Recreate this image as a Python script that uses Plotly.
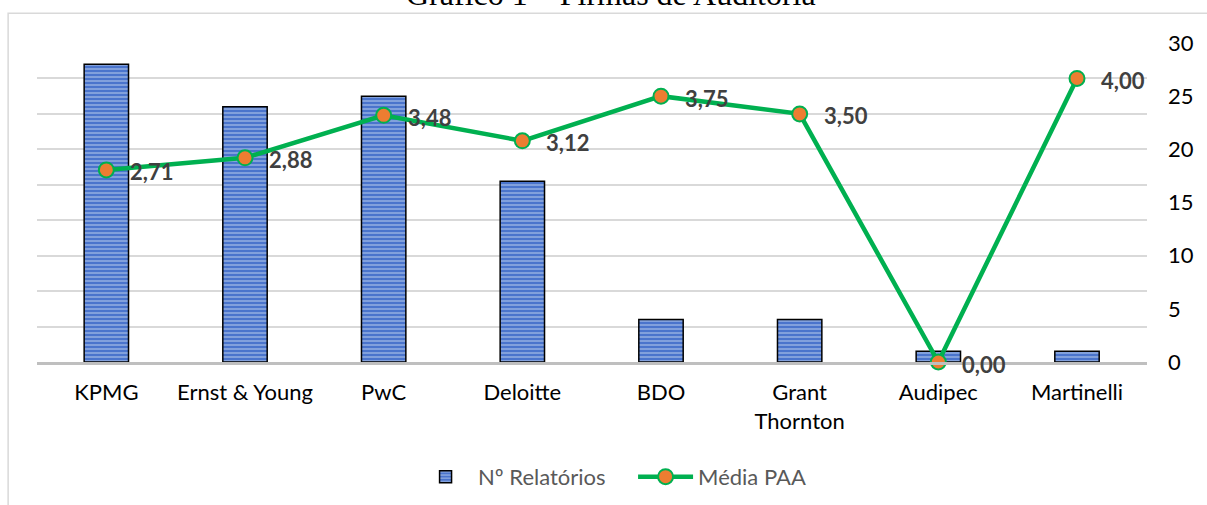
import plotly.graph_objects as go

firmas = ["KPMG", "Ernst & Young", "PwC", "Deloitte", "BDO", "Grant<br>Thornton", "Audipec", "Martinelli"]
n_relatorios = [28, 24, 25, 17, 4, 4, 1, 1]
media_paa = [2.71, 2.88, 3.48, 3.12, 3.75, 3.50, 0.00, 4.00]
rotulos = [f"{v:.2f}".replace(".", ",") for v in media_paa]

FONT = "Lato"
FS = 22

fig = go.Figure()
fig.add_trace(go.Bar(
    x=firmas, y=n_relatorios, name="Nº Relatórios", yaxis="y",
    marker=dict(
        color="#4a74cc",
        line=dict(color="#000000", width=1.5),
        pattern=dict(shape="-", fgcolor="#d6e1f6", bgcolor="#4a74cc", size=4, solidity=0.4),
    ),
))
fig.add_trace(go.Scatter(
    x=firmas, y=media_paa, name="Média PAA", yaxis="y2", mode="lines+markers",
    line=dict(color="#00b050", width=4.5),
    marker=dict(color="#ed7d31", size=15, line=dict(color="#00b050", width=2)),
    cliponaxis=False,
))

for f, v, t in zip(firmas, media_paa, rotulos):
    fig.add_annotation(x=f, y=v, xref="x", yref="y2", text=f"<b>{t}</b>", showarrow=False,
                       xanchor="left", yanchor="middle", xshift=22, yshift=-2,
                       font=dict(family=FONT, size=FS, color="#404040"))

fig.add_annotation(x=0.517, y=1.091, xref="paper", yref="paper", text="Gráfico 1 – Firmas de Auditoria",
                   showarrow=False, xanchor="center", yanchor="bottom",
                   font=dict(family="Liberation Serif", size=32, color="#000000"))

fig.add_shape(type="rect", xref="paper", yref="paper", x0=-0.026, x1=1.06, y0=-0.5, y1=1.093,
              line=dict(color="#d9d9d9", width=1.5), fillcolor="rgba(0,0,0,0)", layer="below")

fig.update_layout(
    width=1207, height=505,
    margin=dict(l=37, r=60, t=43, b=143, autoexpand=False),
    paper_bgcolor="white", plot_bgcolor="white",
    bargap=0.68,
    font=dict(family=FONT, size=FS, color="#000000"),
    xaxis=dict(showline=True, linecolor="#bfbfbf", linewidth=3, ticks="", showgrid=False,
               ticklabelstandoff=9, tickfont=dict(family=FONT, size=FS, color="#000000")),
    yaxis=dict(range=[0, 30], dtick=5, side="right", showgrid=False, zeroline=False,
               ticklabelstandoff=20, tickfont=dict(family=FONT, size=FS, color="#000000")),
    yaxis2=dict(range=[0, 4.5], dtick=0.5, overlaying="y", side="left", showgrid=True,
                gridcolor="#d9d9d9", gridwidth=1.5, zeroline=False, showticklabels=False),
    legend=dict(orientation="h", x=0.537, xanchor="center", y=-0.36, yanchor="middle",
                itemwidth=55, entrywidth=150,
                font=dict(family=FONT, size=FS, color="#595959"), traceorder="normal"),
)

fig.write_html("out.html", config={"displayModeBar": False},
               post_script="document.body.style.margin='0px';")
